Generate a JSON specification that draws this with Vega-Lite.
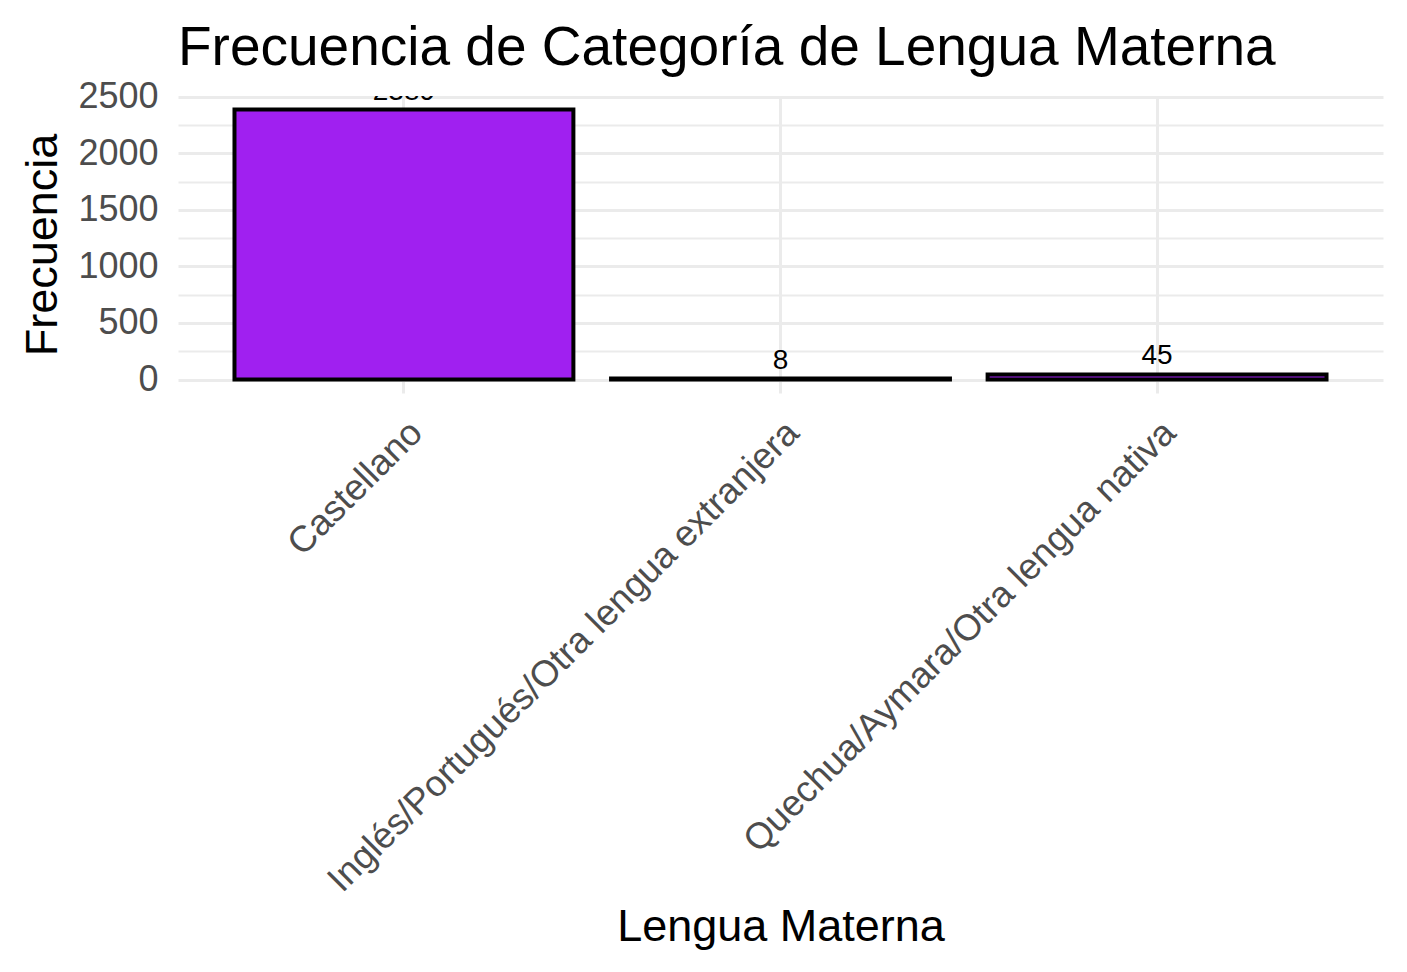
{
  "$schema": "https://vega.github.io/schema/vega-lite/v6.json",
  "width": 1205,
  "height": 297,
  "autosize": {"type": "none"},
  "padding": {"left": 178, "top": 96, "right": 24, "bottom": 579},
  "background": "white",
  "config": {
    "view": {"stroke": null},
    "font": "Liberation Sans"
  },
  "title": {
    "text": "Frecuencia de Categoría de Lengua Materna",
    "anchor": "start",
    "frame": "group",
    "fontSize": 55,
    "fontWeight": "normal",
    "font": "Liberation Sans",
    "color": "black",
    "offset": 2
  },
  "data": {
    "values": [
      {"Lengua": "Castellano", "n": 2389},
      {"Lengua": "Inglés/Portugués/Otra lengua extranjera", "n": 8},
      {"Lengua": "Quechua/Aymara/Otra lengua nativa", "n": 45}
    ]
  },
  "encoding": {
    "x": {
      "field": "Lengua",
      "type": "nominal",
      "sort": null,
      "scale": {"paddingInner": 0.1, "paddingOuter": 0.15},
      "axis": {
        "title": "Lengua Materna",
        "titleFontSize": 45,
        "titleFontWeight": "normal",
        "titleColor": "black",
        "titleFont": "Liberation Sans",
        "titleBaseline": "alphabetic",
        "titleY": 547,
        "labelAngle": -45,
        "labelAlign": "right",
        "labelBaseline": "top",
        "labelFontSize": 36.6,
        "labelColor": "#4D4D4D",
        "labelFont": "Liberation Sans",
        "labelPadding": 21,
        "labelLimit": 2000,
        "bandPosition": 0.5,
        "domain": false,
        "ticks": false,
        "grid": true,
        "gridColor": "#EBEBEB",
        "gridWidth": 3
      }
    }
  },
  "resolve": {"axis": {"y": "independent"}},
  "layer": [
    {
      "mark": {"type": "bar", "fill": "#A020F0", "stroke": "black", "strokeWidth": 4},
      "encoding": {
        "y": {
          "field": "n",
          "type": "quantitative",
          "scale": {"domain": [-119.45, 2508.45], "nice": false, "zero": false},
          "axis": {
            "orient": "right",
            "title": null,
            "labels": false,
            "values": [250, 750, 1250, 1750, 2250],
            "domain": false,
            "ticks": false,
            "grid": true,
            "gridColor": "#EBEBEB",
            "gridWidth": 2
          }
        }
      }
    },
    {
      "mark": {"type": "text", "fontSize": 28, "color": "black", "baseline": "alphabetic", "dy": -10, "clip": true, "font": "Liberation Sans"},
      "encoding": {
        "y": {
          "field": "n",
          "type": "quantitative",
          "axis": {
            "orient": "left",
            "title": "Frecuencia",
            "titleFontSize": 45,
            "titleFontWeight": "normal",
            "titleColor": "black",
            "titleFont": "Liberation Sans",
            "titlePadding": 12,
            "values": [0, 500, 1000, 1500, 2000, 2500],
            "format": "d",
            "labelFontSize": 36,
            "labelColor": "#4D4D4D",
            "labelFont": "Liberation Sans",
            "labelPadding": 20,
            "domain": false,
            "ticks": false,
            "grid": true,
            "gridColor": "#EBEBEB",
            "gridWidth": 3
          }
        },
        "text": {"field": "n", "type": "quantitative"}
      }
    }
  ]
}
